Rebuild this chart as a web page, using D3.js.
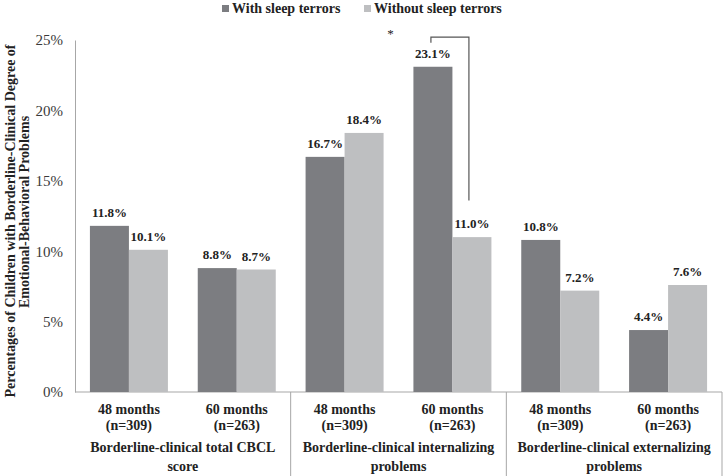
<!DOCTYPE html>
<html>
<head>
<meta charset="utf-8">
<script src="https://cdn.jsdelivr.net/npm/d3@7"></script>
<style>
  body { margin: 0; background: #fff; }
  svg text { font-family: "Liberation Serif", "Times New Roman", serif; fill: #222; }
</style>
</head>
<body>
<svg id="chart" width="723" height="476"></svg>
<script>
const periods = ["48 months", "60 months", "48 months", "60 months", "48 months", "60 months"];
const sampleSizes = ["(n=309)", "(n=263)", "(n=309)", "(n=263)", "(n=309)", "(n=263)"];
const groups = [
  ["Borderline-clinical total CBCL", "score"],
  ["Borderline-clinical internalizing", "problems"],
  ["Borderline-clinical externalizing", "problems"]
];
const seriesNames = ["With sleep terrors", "Without sleep terrors"];
const withTerrors = [11.8, 8.8, 16.7, 23.1, 10.8, 4.4];
const withoutTerrors = [10.1, 8.7, 18.4, 11.0, 7.2, 7.6];
const yTicks = [0, 5, 10, 15, 20, 25];
const colors = ["#7c7d81", "#bebfc1"];

const svg = d3.select("#chart");
const margin = {left: 75, right: 1, top: 40, bottom: 84};
const W = 723, H = 476;

const idx = d3.range(periods.length);
const x = d3.scaleBand().domain(idx).range([margin.left, W - margin.right]).paddingInner(0).paddingOuter(0);
const xs = d3.scaleBand().domain([0, 1]).range([0, 78]);
const y = d3.scaleLinear().domain([0, 25]).range([H - margin.bottom, margin.top]);

const lineColor = "#a7a7a7";

// y axis
const yAxis = svg.append("g")
  .attr("transform", `translate(${margin.left},0)`)
  .call(d3.axisLeft(y).tickValues(yTicks).tickSize(0).tickPadding(12).tickFormat(d => d + "%"));
yAxis.select(".domain").attr("stroke", lineColor);
yAxis.selectAll("text").style("font-size", "15px").style("fill", "#3a3a3a");

// baseline
svg.append("line")
  .attr("x1", margin.left).attr("x2", W - margin.right)
  .attr("y1", y(0)).attr("y2", y(0))
  .attr("stroke", lineColor);

// group separators
const sepX = [0, 2, 4, 6].map(i => i < 6 ? x(i) : x(5) + x.bandwidth());
svg.selectAll(".sep").data(sepX.slice(1)).enter().append("line")
  .attr("x1", d => d).attr("x2", d => d)
  .attr("y1", y(0)).attr("y2", H)
  .attr("stroke", lineColor);

// bars
const pad = (x.bandwidth() - 78) / 2;
const cats = svg.selectAll(".cat").data(idx).enter().append("g")
  .attr("transform", i => `translate(${x(i) + pad},0)`);

[withTerrors, withoutTerrors].forEach((vals, s) => {
  cats.append("rect")
    .attr("x", xs(s))
    .attr("width", xs.bandwidth())
    .attr("y", i => y(vals[i]))
    .attr("height", i => y(0) - y(vals[i]))
    .attr("fill", colors[s]);
  cats.append("text")
    .attr("x", xs(s) + xs.bandwidth() / 2)
    .attr("y", i => y(vals[i]) - 9)
    .attr("text-anchor", "middle")
    .style("font-size", "13px").style("font-weight", "bold")
    .text(i => vals[i].toFixed(1) + "%");
});

// category labels
cats.append("text")
  .attr("x", 39).attr("y", 414)
  .attr("text-anchor", "middle")
  .style("font-size", "14px").style("font-weight", "bold")
  .text(i => periods[i]);
cats.append("text")
  .attr("x", 39).attr("y", 430)
  .attr("text-anchor", "middle")
  .style("font-size", "14px").style("font-weight", "bold")
  .text(i => sampleSizes[i]);

// group labels
groups.forEach((g, gi) => {
  const cx = (sepX[gi] + sepX[gi + 1]) / 2;
  g.forEach((line, li) => {
    svg.append("text")
      .attr("x", cx).attr("y", 452 + li * 19)
      .attr("text-anchor", "middle")
      .style("font-size", "14px").style("font-weight", "bold")
      .text(line);
  });
});

// significance bracket
const bx1 = x(3) + pad + xs(0) + xs.bandwidth() / 2 - 2;
const bx2 = x(3) + pad + xs(1) + xs.bandwidth() / 2 - 3;
svg.append("path")
  .attr("d", `M${bx1},${y(24.8)} V${y(25.2)} H${bx2} V${y(13.6)}`)
  .attr("fill", "none").attr("stroke", "#555").attr("stroke-width", 1.2);
svg.append("text")
  .attr("x", x(3) - 8).attr("y", 38)
  .attr("text-anchor", "middle")
  .style("font-size", "13px")
  .text("*");

// y axis title
const yt = svg.append("text")
  .attr("transform", "rotate(-90)")
  .attr("text-anchor", "middle")
  .style("font-size", "14px").style("font-weight", "bold");
yt.append("tspan").attr("x", -221).attr("y", 15).text("Percentages of Children with Borderline-Clinical Degree of");
yt.append("tspan").attr("x", -212).attr("y", 29).text("Emotional-Behavioral Problems");

// legend
const legend = svg.append("g");
const legX = [222, 364];
seriesNames.forEach((name, s) => {
  legend.append("rect")
    .attr("x", legX[s]).attr("y", 5).attr("width", 7).attr("height", 7)
    .attr("fill", colors[s]);
  legend.append("text")
    .attr("x", legX[s] + 10).attr("y", 13)
    .style("font-size", "14px").style("font-weight", "bold")
    .text(name);
});
</script>
</body>
</html>
